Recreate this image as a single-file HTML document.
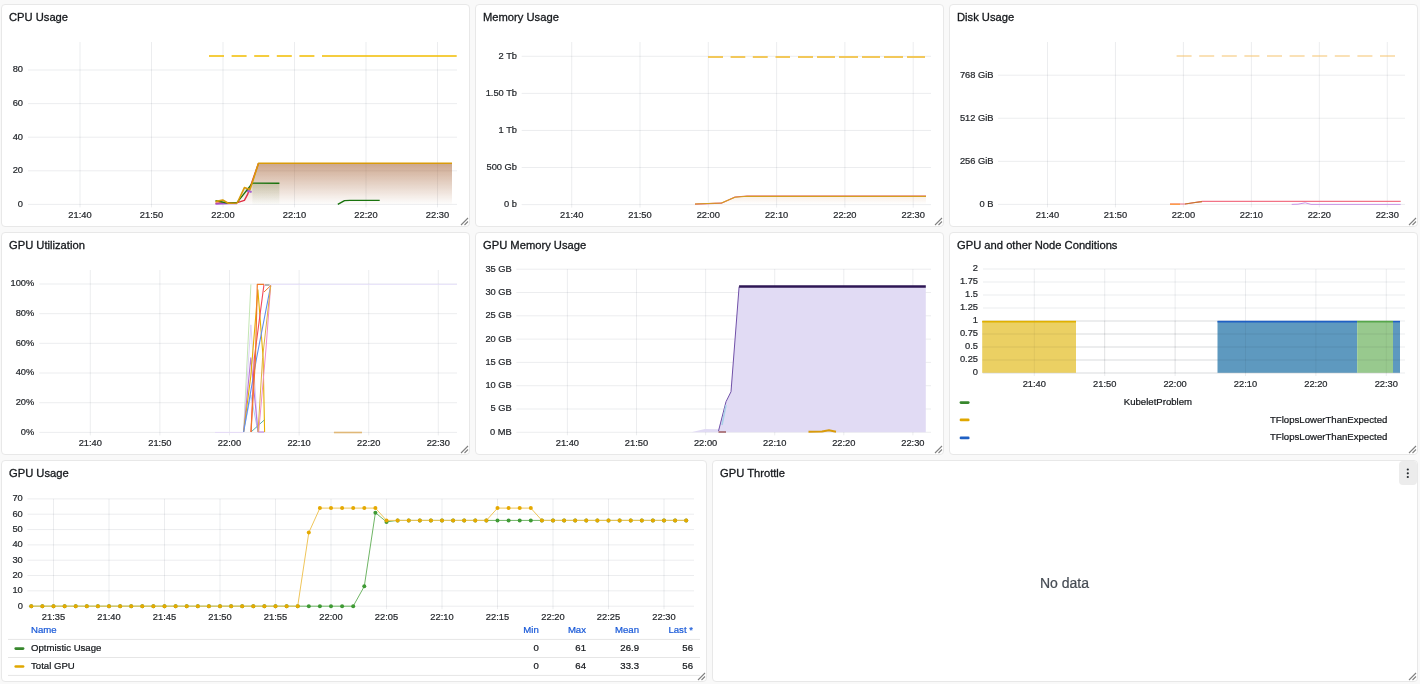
<!DOCTYPE html><html><head><meta charset="utf-8"><style>
html,body{margin:0;padding:0;}
body{width:1420px;height:684px;background:#f9f9f9;position:relative;overflow:hidden;font-family:"Liberation Sans", sans-serif;}
.p{position:absolute;box-sizing:border-box;background:#fff;border:1px solid #e8e8e8;border-radius:4px;}
.t{position:absolute;font-size:11.2px;color:#15181c;white-space:nowrap;line-height:1;-webkit-text-stroke:0.3px #15181c;}
svg{position:absolute;left:0;top:0;will-change:transform;}
.t{will-change:transform;}
</style></head><body>
<div class="p" style="left:1px;top:4px;width:469px;height:223px"></div>
<div class="p" style="left:475px;top:4px;width:469px;height:223px"></div>
<div class="p" style="left:949px;top:4px;width:469px;height:223px"></div>
<div class="p" style="left:1px;top:232px;width:469px;height:223px"></div>
<div class="p" style="left:475px;top:232px;width:469px;height:223px"></div>
<div class="p" style="left:949px;top:232px;width:469px;height:223px"></div>
<div class="p" style="left:1px;top:460px;width:706px;height:222px"></div>
<div class="p" style="left:712px;top:460px;width:706px;height:222px"></div>
<div class="t" style="left:9px;top:12px">CPU Usage</div>
<div class="t" style="left:483px;top:12px">Memory Usage</div>
<div class="t" style="left:957px;top:12px">Disk Usage</div>
<div class="t" style="left:9px;top:240px">GPU Utilization</div>
<div class="t" style="left:483px;top:240px">GPU Memory Usage</div>
<div class="t" style="left:957px;top:240px">GPU and other Node Conditions</div>
<div class="t" style="left:9px;top:468px">GPU Usage</div>
<div class="t" style="left:720px;top:468px">GPU Throttle</div>
<svg width="1420" height="684" viewBox="0 0 1420 684" font-family='"Liberation Sans", sans-serif'><line x1="28" y1="204.4" x2="457" y2="204.4" stroke="rgba(35,45,65,0.085)" stroke-width="1" />
<text x="23" y="206.8" font-size="9.3" text-anchor="end" fill="#25282d" stroke="#25282d" stroke-width="0.22" >0</text>
<line x1="28" y1="170.8" x2="457" y2="170.8" stroke="rgba(35,45,65,0.085)" stroke-width="1" />
<text x="23" y="173.20000000000002" font-size="9.3" text-anchor="end" fill="#25282d" stroke="#25282d" stroke-width="0.22" >20</text>
<line x1="28" y1="137.2" x2="457" y2="137.2" stroke="rgba(35,45,65,0.085)" stroke-width="1" />
<text x="23" y="139.6" font-size="9.3" text-anchor="end" fill="#25282d" stroke="#25282d" stroke-width="0.22" >40</text>
<line x1="28" y1="103.6" x2="457" y2="103.6" stroke="rgba(35,45,65,0.085)" stroke-width="1" />
<text x="23" y="106.0" font-size="9.3" text-anchor="end" fill="#25282d" stroke="#25282d" stroke-width="0.22" >60</text>
<line x1="28" y1="70.0" x2="457" y2="70.0" stroke="rgba(35,45,65,0.085)" stroke-width="1" />
<text x="23" y="72.4" font-size="9.3" text-anchor="end" fill="#25282d" stroke="#25282d" stroke-width="0.22" >80</text>
<line x1="80.0" y1="42" x2="80.0" y2="207.4" stroke="rgba(35,45,65,0.085)" stroke-width="1" />
<text x="80.0" y="218" font-size="9.3" text-anchor="middle" fill="#25282d" stroke="#25282d" stroke-width="0.22" >21:40</text>
<line x1="151.5" y1="42" x2="151.5" y2="207.4" stroke="rgba(35,45,65,0.085)" stroke-width="1" />
<text x="151.5" y="218" font-size="9.3" text-anchor="middle" fill="#25282d" stroke="#25282d" stroke-width="0.22" >21:50</text>
<line x1="223.0" y1="42" x2="223.0" y2="207.4" stroke="rgba(35,45,65,0.085)" stroke-width="1" />
<text x="223.0" y="218" font-size="9.3" text-anchor="middle" fill="#25282d" stroke="#25282d" stroke-width="0.22" >22:00</text>
<line x1="294.5" y1="42" x2="294.5" y2="207.4" stroke="rgba(35,45,65,0.085)" stroke-width="1" />
<text x="294.5" y="218" font-size="9.3" text-anchor="middle" fill="#25282d" stroke="#25282d" stroke-width="0.22" >22:10</text>
<line x1="366.0" y1="42" x2="366.0" y2="207.4" stroke="rgba(35,45,65,0.085)" stroke-width="1" />
<text x="366.0" y="218" font-size="9.3" text-anchor="middle" fill="#25282d" stroke="#25282d" stroke-width="0.22" >22:20</text>
<line x1="437.5" y1="42" x2="437.5" y2="207.4" stroke="rgba(35,45,65,0.085)" stroke-width="1" />
<text x="437.5" y="218" font-size="9.3" text-anchor="middle" fill="#25282d" stroke="#25282d" stroke-width="0.22" >22:30</text>
<line x1="521.7" y1="204.6" x2="931" y2="204.6" stroke="rgba(35,45,65,0.085)" stroke-width="1" />
<text x="517" y="207.0" font-size="9.3" text-anchor="end" fill="#25282d" stroke="#25282d" stroke-width="0.22" >0 b</text>
<line x1="521.7" y1="167.53" x2="931" y2="167.53" stroke="rgba(35,45,65,0.085)" stroke-width="1" />
<text x="517" y="169.93" font-size="9.3" text-anchor="end" fill="#25282d" stroke="#25282d" stroke-width="0.22" >500 Gb</text>
<line x1="521.7" y1="130.45999999999998" x2="931" y2="130.45999999999998" stroke="rgba(35,45,65,0.085)" stroke-width="1" />
<text x="517" y="132.85999999999999" font-size="9.3" text-anchor="end" fill="#25282d" stroke="#25282d" stroke-width="0.22" >1 Tb</text>
<line x1="521.7" y1="93.38999999999999" x2="931" y2="93.38999999999999" stroke="rgba(35,45,65,0.085)" stroke-width="1" />
<text x="517" y="95.78999999999999" font-size="9.3" text-anchor="end" fill="#25282d" stroke="#25282d" stroke-width="0.22" >1.50 Tb</text>
<line x1="521.7" y1="56.31999999999999" x2="931" y2="56.31999999999999" stroke="rgba(35,45,65,0.085)" stroke-width="1" />
<text x="517" y="58.71999999999999" font-size="9.3" text-anchor="end" fill="#25282d" stroke="#25282d" stroke-width="0.22" >2 Tb</text>
<line x1="571.7" y1="42" x2="571.7" y2="207.6" stroke="rgba(35,45,65,0.085)" stroke-width="1" />
<text x="571.7" y="218" font-size="9.3" text-anchor="middle" fill="#25282d" stroke="#25282d" stroke-width="0.22" >21:40</text>
<line x1="640.0" y1="42" x2="640.0" y2="207.6" stroke="rgba(35,45,65,0.085)" stroke-width="1" />
<text x="640.0" y="218" font-size="9.3" text-anchor="middle" fill="#25282d" stroke="#25282d" stroke-width="0.22" >21:50</text>
<line x1="708.3000000000001" y1="42" x2="708.3000000000001" y2="207.6" stroke="rgba(35,45,65,0.085)" stroke-width="1" />
<text x="708.3000000000001" y="218" font-size="9.3" text-anchor="middle" fill="#25282d" stroke="#25282d" stroke-width="0.22" >22:00</text>
<line x1="776.6" y1="42" x2="776.6" y2="207.6" stroke="rgba(35,45,65,0.085)" stroke-width="1" />
<text x="776.6" y="218" font-size="9.3" text-anchor="middle" fill="#25282d" stroke="#25282d" stroke-width="0.22" >22:10</text>
<line x1="844.9000000000001" y1="42" x2="844.9000000000001" y2="207.6" stroke="rgba(35,45,65,0.085)" stroke-width="1" />
<text x="844.9000000000001" y="218" font-size="9.3" text-anchor="middle" fill="#25282d" stroke="#25282d" stroke-width="0.22" >22:20</text>
<line x1="913.2" y1="42" x2="913.2" y2="207.6" stroke="rgba(35,45,65,0.085)" stroke-width="1" />
<text x="913.2" y="218" font-size="9.3" text-anchor="middle" fill="#25282d" stroke="#25282d" stroke-width="0.22" >22:30</text>
<line x1="998" y1="204.4" x2="1405" y2="204.4" stroke="rgba(35,45,65,0.085)" stroke-width="1" />
<text x="993.5" y="206.8" font-size="9.3" text-anchor="end" fill="#25282d" stroke="#25282d" stroke-width="0.22" >0 B</text>
<line x1="998" y1="161.33" x2="1405" y2="161.33" stroke="rgba(35,45,65,0.085)" stroke-width="1" />
<text x="993.5" y="163.73000000000002" font-size="9.3" text-anchor="end" fill="#25282d" stroke="#25282d" stroke-width="0.22" >256 GiB</text>
<line x1="998" y1="118.26" x2="1405" y2="118.26" stroke="rgba(35,45,65,0.085)" stroke-width="1" />
<text x="993.5" y="120.66000000000001" font-size="9.3" text-anchor="end" fill="#25282d" stroke="#25282d" stroke-width="0.22" >512 GiB</text>
<line x1="998" y1="75.19" x2="1405" y2="75.19" stroke="rgba(35,45,65,0.085)" stroke-width="1" />
<text x="993.5" y="77.59" font-size="9.3" text-anchor="end" fill="#25282d" stroke="#25282d" stroke-width="0.22" >768 GiB</text>
<line x1="1047.5" y1="42" x2="1047.5" y2="207.4" stroke="rgba(35,45,65,0.085)" stroke-width="1" />
<text x="1047.5" y="218" font-size="9.3" text-anchor="middle" fill="#25282d" stroke="#25282d" stroke-width="0.22" >21:40</text>
<line x1="1115.46" y1="42" x2="1115.46" y2="207.4" stroke="rgba(35,45,65,0.085)" stroke-width="1" />
<text x="1115.46" y="218" font-size="9.3" text-anchor="middle" fill="#25282d" stroke="#25282d" stroke-width="0.22" >21:50</text>
<line x1="1183.42" y1="42" x2="1183.42" y2="207.4" stroke="rgba(35,45,65,0.085)" stroke-width="1" />
<text x="1183.42" y="218" font-size="9.3" text-anchor="middle" fill="#25282d" stroke="#25282d" stroke-width="0.22" >22:00</text>
<line x1="1251.38" y1="42" x2="1251.38" y2="207.4" stroke="rgba(35,45,65,0.085)" stroke-width="1" />
<text x="1251.38" y="218" font-size="9.3" text-anchor="middle" fill="#25282d" stroke="#25282d" stroke-width="0.22" >22:10</text>
<line x1="1319.34" y1="42" x2="1319.34" y2="207.4" stroke="rgba(35,45,65,0.085)" stroke-width="1" />
<text x="1319.34" y="218" font-size="9.3" text-anchor="middle" fill="#25282d" stroke="#25282d" stroke-width="0.22" >22:20</text>
<line x1="1387.3" y1="42" x2="1387.3" y2="207.4" stroke="rgba(35,45,65,0.085)" stroke-width="1" />
<text x="1387.3" y="218" font-size="9.3" text-anchor="middle" fill="#25282d" stroke="#25282d" stroke-width="0.22" >22:30</text>
<line x1="39.4" y1="432.4" x2="457" y2="432.4" stroke="rgba(35,45,65,0.085)" stroke-width="1" />
<text x="34.3" y="434.79999999999995" font-size="9.3" text-anchor="end" fill="#25282d" stroke="#25282d" stroke-width="0.22" >0%</text>
<line x1="39.4" y1="402.71999999999997" x2="457" y2="402.71999999999997" stroke="rgba(35,45,65,0.085)" stroke-width="1" />
<text x="34.3" y="405.11999999999995" font-size="9.3" text-anchor="end" fill="#25282d" stroke="#25282d" stroke-width="0.22" >20%</text>
<line x1="39.4" y1="373.03999999999996" x2="457" y2="373.03999999999996" stroke="rgba(35,45,65,0.085)" stroke-width="1" />
<text x="34.3" y="375.43999999999994" font-size="9.3" text-anchor="end" fill="#25282d" stroke="#25282d" stroke-width="0.22" >40%</text>
<line x1="39.4" y1="343.36" x2="457" y2="343.36" stroke="rgba(35,45,65,0.085)" stroke-width="1" />
<text x="34.3" y="345.76" font-size="9.3" text-anchor="end" fill="#25282d" stroke="#25282d" stroke-width="0.22" >60%</text>
<line x1="39.4" y1="313.67999999999995" x2="457" y2="313.67999999999995" stroke="rgba(35,45,65,0.085)" stroke-width="1" />
<text x="34.3" y="316.0799999999999" font-size="9.3" text-anchor="end" fill="#25282d" stroke="#25282d" stroke-width="0.22" >80%</text>
<line x1="39.4" y1="284.0" x2="457" y2="284.0" stroke="rgba(35,45,65,0.085)" stroke-width="1" />
<text x="34.3" y="286.4" font-size="9.3" text-anchor="end" fill="#25282d" stroke="#25282d" stroke-width="0.22" >100%</text>
<line x1="90.3" y1="270" x2="90.3" y2="435.4" stroke="rgba(35,45,65,0.085)" stroke-width="1" />
<text x="90.3" y="446" font-size="9.3" text-anchor="middle" fill="#25282d" stroke="#25282d" stroke-width="0.22" >21:40</text>
<line x1="159.89999999999998" y1="270" x2="159.89999999999998" y2="435.4" stroke="rgba(35,45,65,0.085)" stroke-width="1" />
<text x="159.89999999999998" y="446" font-size="9.3" text-anchor="middle" fill="#25282d" stroke="#25282d" stroke-width="0.22" >21:50</text>
<line x1="229.5" y1="270" x2="229.5" y2="435.4" stroke="rgba(35,45,65,0.085)" stroke-width="1" />
<text x="229.5" y="446" font-size="9.3" text-anchor="middle" fill="#25282d" stroke="#25282d" stroke-width="0.22" >22:00</text>
<line x1="299.09999999999997" y1="270" x2="299.09999999999997" y2="435.4" stroke="rgba(35,45,65,0.085)" stroke-width="1" />
<text x="299.09999999999997" y="446" font-size="9.3" text-anchor="middle" fill="#25282d" stroke="#25282d" stroke-width="0.22" >22:10</text>
<line x1="368.7" y1="270" x2="368.7" y2="435.4" stroke="rgba(35,45,65,0.085)" stroke-width="1" />
<text x="368.7" y="446" font-size="9.3" text-anchor="middle" fill="#25282d" stroke="#25282d" stroke-width="0.22" >22:20</text>
<line x1="438.3" y1="270" x2="438.3" y2="435.4" stroke="rgba(35,45,65,0.085)" stroke-width="1" />
<text x="438.3" y="446" font-size="9.3" text-anchor="middle" fill="#25282d" stroke="#25282d" stroke-width="0.22" >22:30</text>
<line x1="516.4" y1="432.3" x2="931" y2="432.3" stroke="rgba(35,45,65,0.085)" stroke-width="1" />
<text x="511.8" y="434.7" font-size="9.3" text-anchor="end" fill="#25282d" stroke="#25282d" stroke-width="0.22" >0 MB</text>
<line x1="516.4" y1="409.0" x2="931" y2="409.0" stroke="rgba(35,45,65,0.085)" stroke-width="1" />
<text x="511.8" y="411.4" font-size="9.3" text-anchor="end" fill="#25282d" stroke="#25282d" stroke-width="0.22" >5 GB</text>
<line x1="516.4" y1="385.7" x2="931" y2="385.7" stroke="rgba(35,45,65,0.085)" stroke-width="1" />
<text x="511.8" y="388.09999999999997" font-size="9.3" text-anchor="end" fill="#25282d" stroke="#25282d" stroke-width="0.22" >10 GB</text>
<line x1="516.4" y1="362.4" x2="931" y2="362.4" stroke="rgba(35,45,65,0.085)" stroke-width="1" />
<text x="511.8" y="364.79999999999995" font-size="9.3" text-anchor="end" fill="#25282d" stroke="#25282d" stroke-width="0.22" >15 GB</text>
<line x1="516.4" y1="339.1" x2="931" y2="339.1" stroke="rgba(35,45,65,0.085)" stroke-width="1" />
<text x="511.8" y="341.5" font-size="9.3" text-anchor="end" fill="#25282d" stroke="#25282d" stroke-width="0.22" >20 GB</text>
<line x1="516.4" y1="315.8" x2="931" y2="315.8" stroke="rgba(35,45,65,0.085)" stroke-width="1" />
<text x="511.8" y="318.2" font-size="9.3" text-anchor="end" fill="#25282d" stroke="#25282d" stroke-width="0.22" >25 GB</text>
<line x1="516.4" y1="292.5" x2="931" y2="292.5" stroke="rgba(35,45,65,0.085)" stroke-width="1" />
<text x="511.8" y="294.9" font-size="9.3" text-anchor="end" fill="#25282d" stroke="#25282d" stroke-width="0.22" >30 GB</text>
<line x1="516.4" y1="269.20000000000005" x2="931" y2="269.20000000000005" stroke="rgba(35,45,65,0.085)" stroke-width="1" />
<text x="511.8" y="271.6" font-size="9.3" text-anchor="end" fill="#25282d" stroke="#25282d" stroke-width="0.22" >35 GB</text>
<line x1="567.4" y1="269.2" x2="567.4" y2="435.3" stroke="rgba(35,45,65,0.085)" stroke-width="1" />
<text x="567.4" y="446" font-size="9.3" text-anchor="middle" fill="#25282d" stroke="#25282d" stroke-width="0.22" >21:40</text>
<line x1="636.5" y1="269.2" x2="636.5" y2="435.3" stroke="rgba(35,45,65,0.085)" stroke-width="1" />
<text x="636.5" y="446" font-size="9.3" text-anchor="middle" fill="#25282d" stroke="#25282d" stroke-width="0.22" >21:50</text>
<line x1="705.5999999999999" y1="269.2" x2="705.5999999999999" y2="435.3" stroke="rgba(35,45,65,0.085)" stroke-width="1" />
<text x="705.5999999999999" y="446" font-size="9.3" text-anchor="middle" fill="#25282d" stroke="#25282d" stroke-width="0.22" >22:00</text>
<line x1="774.6999999999999" y1="269.2" x2="774.6999999999999" y2="435.3" stroke="rgba(35,45,65,0.085)" stroke-width="1" />
<text x="774.6999999999999" y="446" font-size="9.3" text-anchor="middle" fill="#25282d" stroke="#25282d" stroke-width="0.22" >22:10</text>
<line x1="843.8" y1="269.2" x2="843.8" y2="435.3" stroke="rgba(35,45,65,0.085)" stroke-width="1" />
<text x="843.8" y="446" font-size="9.3" text-anchor="middle" fill="#25282d" stroke="#25282d" stroke-width="0.22" >22:20</text>
<line x1="912.9" y1="269.2" x2="912.9" y2="435.3" stroke="rgba(35,45,65,0.085)" stroke-width="1" />
<text x="912.9" y="446" font-size="9.3" text-anchor="middle" fill="#25282d" stroke="#25282d" stroke-width="0.22" >22:30</text>
<line x1="983" y1="373" x2="1405" y2="373" stroke="rgba(35,45,65,0.085)" stroke-width="1" />
<text x="978" y="375.4" font-size="9.3" text-anchor="end" fill="#25282d" stroke="#25282d" stroke-width="0.22" >0</text>
<line x1="983" y1="360" x2="1405" y2="360" stroke="rgba(35,45,65,0.085)" stroke-width="1" />
<text x="978" y="362.4" font-size="9.3" text-anchor="end" fill="#25282d" stroke="#25282d" stroke-width="0.22" >0.25</text>
<line x1="983" y1="347" x2="1405" y2="347" stroke="rgba(35,45,65,0.085)" stroke-width="1" />
<text x="978" y="349.4" font-size="9.3" text-anchor="end" fill="#25282d" stroke="#25282d" stroke-width="0.22" >0.5</text>
<line x1="983" y1="334" x2="1405" y2="334" stroke="rgba(35,45,65,0.085)" stroke-width="1" />
<text x="978" y="336.4" font-size="9.3" text-anchor="end" fill="#25282d" stroke="#25282d" stroke-width="0.22" >0.75</text>
<line x1="983" y1="321" x2="1405" y2="321" stroke="rgba(35,45,65,0.085)" stroke-width="1" />
<text x="978" y="323.4" font-size="9.3" text-anchor="end" fill="#25282d" stroke="#25282d" stroke-width="0.22" >1</text>
<line x1="983" y1="308" x2="1405" y2="308" stroke="rgba(35,45,65,0.085)" stroke-width="1" />
<text x="978" y="310.4" font-size="9.3" text-anchor="end" fill="#25282d" stroke="#25282d" stroke-width="0.22" >1.25</text>
<line x1="983" y1="295" x2="1405" y2="295" stroke="rgba(35,45,65,0.085)" stroke-width="1" />
<text x="978" y="297.4" font-size="9.3" text-anchor="end" fill="#25282d" stroke="#25282d" stroke-width="0.22" >1.5</text>
<line x1="983" y1="282" x2="1405" y2="282" stroke="rgba(35,45,65,0.085)" stroke-width="1" />
<text x="978" y="284.4" font-size="9.3" text-anchor="end" fill="#25282d" stroke="#25282d" stroke-width="0.22" >1.75</text>
<line x1="983" y1="269" x2="1405" y2="269" stroke="rgba(35,45,65,0.085)" stroke-width="1" />
<text x="978" y="271.4" font-size="9.3" text-anchor="end" fill="#25282d" stroke="#25282d" stroke-width="0.22" >2</text>
<line x1="1034.3" y1="269.2" x2="1034.3" y2="376" stroke="rgba(35,45,65,0.085)" stroke-width="1" />
<text x="1034.3" y="387" font-size="9.3" text-anchor="middle" fill="#25282d" stroke="#25282d" stroke-width="0.22" >21:40</text>
<line x1="1104.7" y1="269.2" x2="1104.7" y2="376" stroke="rgba(35,45,65,0.085)" stroke-width="1" />
<text x="1104.7" y="387" font-size="9.3" text-anchor="middle" fill="#25282d" stroke="#25282d" stroke-width="0.22" >21:50</text>
<line x1="1175.1" y1="269.2" x2="1175.1" y2="376" stroke="rgba(35,45,65,0.085)" stroke-width="1" />
<text x="1175.1" y="387" font-size="9.3" text-anchor="middle" fill="#25282d" stroke="#25282d" stroke-width="0.22" >22:00</text>
<line x1="1245.5" y1="269.2" x2="1245.5" y2="376" stroke="rgba(35,45,65,0.085)" stroke-width="1" />
<text x="1245.5" y="387" font-size="9.3" text-anchor="middle" fill="#25282d" stroke="#25282d" stroke-width="0.22" >22:10</text>
<line x1="1315.9" y1="269.2" x2="1315.9" y2="376" stroke="rgba(35,45,65,0.085)" stroke-width="1" />
<text x="1315.9" y="387" font-size="9.3" text-anchor="middle" fill="#25282d" stroke="#25282d" stroke-width="0.22" >22:20</text>
<line x1="1386.3" y1="269.2" x2="1386.3" y2="376" stroke="rgba(35,45,65,0.085)" stroke-width="1" />
<text x="1386.3" y="387" font-size="9.3" text-anchor="middle" fill="#25282d" stroke="#25282d" stroke-width="0.22" >22:30</text>
<line x1="27.5" y1="606.2" x2="694" y2="606.2" stroke="rgba(35,45,65,0.085)" stroke-width="1" />
<text x="22.8" y="608.6" font-size="9.3" text-anchor="end" fill="#25282d" stroke="#25282d" stroke-width="0.22" >0</text>
<line x1="27.5" y1="590.87" x2="694" y2="590.87" stroke="rgba(35,45,65,0.085)" stroke-width="1" />
<text x="22.8" y="593.27" font-size="9.3" text-anchor="end" fill="#25282d" stroke="#25282d" stroke-width="0.22" >10</text>
<line x1="27.5" y1="575.5400000000001" x2="694" y2="575.5400000000001" stroke="rgba(35,45,65,0.085)" stroke-width="1" />
<text x="22.8" y="577.94" font-size="9.3" text-anchor="end" fill="#25282d" stroke="#25282d" stroke-width="0.22" >20</text>
<line x1="27.5" y1="560.21" x2="694" y2="560.21" stroke="rgba(35,45,65,0.085)" stroke-width="1" />
<text x="22.8" y="562.61" font-size="9.3" text-anchor="end" fill="#25282d" stroke="#25282d" stroke-width="0.22" >30</text>
<line x1="27.5" y1="544.88" x2="694" y2="544.88" stroke="rgba(35,45,65,0.085)" stroke-width="1" />
<text x="22.8" y="547.28" font-size="9.3" text-anchor="end" fill="#25282d" stroke="#25282d" stroke-width="0.22" >40</text>
<line x1="27.5" y1="529.5500000000001" x2="694" y2="529.5500000000001" stroke="rgba(35,45,65,0.085)" stroke-width="1" />
<text x="22.8" y="531.95" font-size="9.3" text-anchor="end" fill="#25282d" stroke="#25282d" stroke-width="0.22" >50</text>
<line x1="27.5" y1="514.22" x2="694" y2="514.22" stroke="rgba(35,45,65,0.085)" stroke-width="1" />
<text x="22.8" y="516.62" font-size="9.3" text-anchor="end" fill="#25282d" stroke="#25282d" stroke-width="0.22" >60</text>
<line x1="27.5" y1="498.89000000000004" x2="694" y2="498.89000000000004" stroke="rgba(35,45,65,0.085)" stroke-width="1" />
<text x="22.8" y="501.29" font-size="9.3" text-anchor="end" fill="#25282d" stroke="#25282d" stroke-width="0.22" >70</text>
<line x1="53.5" y1="498.9" x2="53.5" y2="609.2" stroke="rgba(35,45,65,0.085)" stroke-width="1" />
<text x="53.5" y="620" font-size="9.3" text-anchor="middle" fill="#25282d" stroke="#25282d" stroke-width="0.22" >21:35</text>
<line x1="109.0" y1="498.9" x2="109.0" y2="609.2" stroke="rgba(35,45,65,0.085)" stroke-width="1" />
<text x="109.0" y="620" font-size="9.3" text-anchor="middle" fill="#25282d" stroke="#25282d" stroke-width="0.22" >21:40</text>
<line x1="164.5" y1="498.9" x2="164.5" y2="609.2" stroke="rgba(35,45,65,0.085)" stroke-width="1" />
<text x="164.5" y="620" font-size="9.3" text-anchor="middle" fill="#25282d" stroke="#25282d" stroke-width="0.22" >21:45</text>
<line x1="220.0" y1="498.9" x2="220.0" y2="609.2" stroke="rgba(35,45,65,0.085)" stroke-width="1" />
<text x="220.0" y="620" font-size="9.3" text-anchor="middle" fill="#25282d" stroke="#25282d" stroke-width="0.22" >21:50</text>
<line x1="275.5" y1="498.9" x2="275.5" y2="609.2" stroke="rgba(35,45,65,0.085)" stroke-width="1" />
<text x="275.5" y="620" font-size="9.3" text-anchor="middle" fill="#25282d" stroke="#25282d" stroke-width="0.22" >21:55</text>
<line x1="331.0" y1="498.9" x2="331.0" y2="609.2" stroke="rgba(35,45,65,0.085)" stroke-width="1" />
<text x="331.0" y="620" font-size="9.3" text-anchor="middle" fill="#25282d" stroke="#25282d" stroke-width="0.22" >22:00</text>
<line x1="386.5" y1="498.9" x2="386.5" y2="609.2" stroke="rgba(35,45,65,0.085)" stroke-width="1" />
<text x="386.5" y="620" font-size="9.3" text-anchor="middle" fill="#25282d" stroke="#25282d" stroke-width="0.22" >22:05</text>
<line x1="442.0" y1="498.9" x2="442.0" y2="609.2" stroke="rgba(35,45,65,0.085)" stroke-width="1" />
<text x="442.0" y="620" font-size="9.3" text-anchor="middle" fill="#25282d" stroke="#25282d" stroke-width="0.22" >22:10</text>
<line x1="497.5" y1="498.9" x2="497.5" y2="609.2" stroke="rgba(35,45,65,0.085)" stroke-width="1" />
<text x="497.5" y="620" font-size="9.3" text-anchor="middle" fill="#25282d" stroke="#25282d" stroke-width="0.22" >22:15</text>
<line x1="553.0" y1="498.9" x2="553.0" y2="609.2" stroke="rgba(35,45,65,0.085)" stroke-width="1" />
<text x="553.0" y="620" font-size="9.3" text-anchor="middle" fill="#25282d" stroke="#25282d" stroke-width="0.22" >22:20</text>
<line x1="608.5" y1="498.9" x2="608.5" y2="609.2" stroke="rgba(35,45,65,0.085)" stroke-width="1" />
<text x="608.5" y="620" font-size="9.3" text-anchor="middle" fill="#25282d" stroke="#25282d" stroke-width="0.22" >22:25</text>
<line x1="664.0" y1="498.9" x2="664.0" y2="609.2" stroke="rgba(35,45,65,0.085)" stroke-width="1" />
<text x="664.0" y="620" font-size="9.3" text-anchor="middle" fill="#25282d" stroke="#25282d" stroke-width="0.22" >22:30</text>
<defs><linearGradient id="gBrown" x1="0" y1="0" x2="0" y2="1"><stop offset="0" stop-color="#ad7048" stop-opacity="0.62"/><stop offset="1" stop-color="#ad7048" stop-opacity="0.01"/></linearGradient><linearGradient id="gGreen" x1="0" y1="0" x2="0" y2="1"><stop offset="0" stop-color="#6f8a4a" stop-opacity="0.24"/><stop offset="1" stop-color="#6f8a4a" stop-opacity="0.02"/></linearGradient><linearGradient id="gMem" x1="0" y1="0" x2="0" y2="1"><stop offset="0" stop-color="#c87830" stop-opacity="0.12"/><stop offset="1" stop-color="#c87830" stop-opacity="0.0"/></linearGradient></defs>
<polyline points="209.0,56.0 322.0,56.0" fill="none" stroke="#f2bd00" stroke-width="1.6" stroke-linejoin="round" stroke-dasharray="15 7.6"/>
<polyline points="322.0,56.0 456.7,56.0" fill="none" stroke="#f2bd00" stroke-width="1.6" stroke-linejoin="round" />
<polygon points="237.2,204.4 244.4,187.6 250.0,189.6 258.5,163.3 452.0,163.3 452.0,204.4" fill="url(#gBrown)" />
<polygon points="252.4,183.1 279.4,183.3 279.4,204.4 252.4,204.4" fill="url(#gGreen)" />
<polyline points="215.5,203.2 238.0,202.4 244.4,200.4 247.6,194.4 258.5,163.3" fill="none" stroke="#e02f44" stroke-width="1.4" stroke-linejoin="round" />
<polyline points="215.5,204.0 230.0,203.5 237.0,203.5" fill="none" stroke="#a352cc" stroke-width="1.4" stroke-linejoin="round" />
<polyline points="246.5,190.5 251.6,192.0" fill="none" stroke="#a060d0" stroke-width="2" stroke-linejoin="round" />
<polyline points="215.5,200.8 229.0,203.2 237.2,202.4 252.4,183.1 279.4,183.3" fill="none" stroke="#19730e" stroke-width="1.4" stroke-linejoin="round" />
<polyline points="215.5,201.6 222.7,200.0 228.3,203.2 237.2,203.0 244.4,187.6 250.0,189.6 258.5,163.3 452.0,163.3" fill="none" stroke="#d99b0a" stroke-width="1.6" stroke-linejoin="round" />
<polyline points="337.8,204.4 344.5,200.6 350.0,200.4 379.7,200.4" fill="none" stroke="#19730e" stroke-width="1.4" stroke-linejoin="round" />
<polyline points="708.0,57.0 723.0,57.0" fill="none" stroke="#f2c85a" stroke-width="2" stroke-linejoin="round" />
<polyline points="730.6,57.0 745.3,57.0" fill="none" stroke="#f2c85a" stroke-width="2" stroke-linejoin="round" />
<polyline points="752.8,57.0 767.7,57.0" fill="none" stroke="#f2c85a" stroke-width="2" stroke-linejoin="round" />
<polyline points="775.5,57.0 790.0,57.0" fill="none" stroke="#f2c85a" stroke-width="2" stroke-linejoin="round" />
<polyline points="798.0,57.0 813.0,57.0" fill="none" stroke="#f2c85a" stroke-width="2" stroke-linejoin="round" />
<polyline points="817.0,57.0 835.0,57.0" fill="none" stroke="#f2c85a" stroke-width="2" stroke-linejoin="round" />
<polyline points="839.0,57.0 858.0,57.0" fill="none" stroke="#f2c85a" stroke-width="2" stroke-linejoin="round" />
<polyline points="862.0,57.0 880.0,57.0" fill="none" stroke="#f2c85a" stroke-width="2" stroke-linejoin="round" />
<polyline points="884.0,57.0 903.0,57.0" fill="none" stroke="#f2c85a" stroke-width="2" stroke-linejoin="round" />
<polyline points="907.0,57.0 925.0,57.0" fill="none" stroke="#f2c85a" stroke-width="2" stroke-linejoin="round" />
<polygon points="695.0,204.6 721.4,203.2 735.0,197.0 747.0,196.0 926.0,196.0 926.0,204.6" fill="url(#gMem)" />
<polyline points="695.0,204.2 721.4,203.2 735.0,197.0 747.0,196.0 926.0,196.0" fill="none" stroke="#e8577a" stroke-width="1.2" stroke-linejoin="round" />
<polyline points="695.0,204.0 721.4,203.0 735.0,197.3 747.0,196.3 926.0,196.3" fill="none" stroke="#d4a020" stroke-width="1.15" stroke-linejoin="round" />
<polyline points="1176.6,56.0 1397.0,56.0" fill="none" stroke="#f5c46e" stroke-width="1.1" stroke-linejoin="round" stroke-dasharray="15 7.6"/>
<polyline points="1170.0,204.0 1185.0,204.0 1202.4,201.4 1400.7,201.4" fill="none" stroke="#f27386" stroke-width="1.2" stroke-linejoin="round" />
<polyline points="1170.0,204.2 1180.0,204.2" fill="none" stroke="#ff9830" stroke-width="1.2" stroke-linejoin="round" />
<polyline points="1185.0,204.0 1195.0,202.5 1202.0,201.6" fill="none" stroke="#c4782a" stroke-width="1.2" stroke-linejoin="round" />
<polyline points="1291.7,204.4 1298.0,204.2 1305.2,202.8 1311.0,204.4 1400.7,204.4" fill="none" stroke="#c995e6" stroke-width="1" stroke-linejoin="round" />
<polyline points="215.0,432.4 243.6,432.4" fill="none" stroke="#e6dcf8" stroke-width="1" stroke-linejoin="round" />
<polyline points="270.5,284.3 457.0,284.3" fill="none" stroke="#e6e0fa" stroke-width="1" stroke-linejoin="round" />
<polyline points="243.6,432.0 250.9,284.4" fill="none" stroke="#c4e6b4" stroke-width="1" stroke-linejoin="round" />
<polyline points="243.6,432.0 250.9,324.8 258.0,432.0" fill="none" stroke="#ddd2f6" stroke-width="1" stroke-linejoin="round" />
<polyline points="243.6,432.0 250.8,394.7 258.0,432.0" fill="none" stroke="#a8ccf8" stroke-width="1" stroke-linejoin="round" />
<polyline points="251.0,432.0 264.6,419.7" fill="none" stroke="#3da6a6" stroke-width="0.9" stroke-linejoin="round" />
<polyline points="243.6,432.0 250.8,357.9 258.0,432.0 264.3,432.0" fill="none" stroke="#b877d9" stroke-width="1.1" stroke-linejoin="round" />
<polyline points="243.6,432.0 250.8,376.3 257.9,289.7 263.1,357.5 264.6,432.0" fill="none" stroke="#e5b000" stroke-width="1.1" stroke-linejoin="round" />
<polyline points="243.6,432.0 256.7,357.5 270.7,285.6" fill="none" stroke="#5f8ef0" stroke-width="1.1" stroke-linejoin="round" />
<polyline points="258.7,432.0 265.9,350.0 270.7,285.6" fill="none" stroke="#f08cc8" stroke-width="1" stroke-linejoin="round" />
<polyline points="258.0,432.0 262.6,357.5 270.7,285.6" fill="none" stroke="#e0b040" stroke-width="1" stroke-linejoin="round" />
<polyline points="251.0,432.0 254.4,357.5 264.0,284.4" fill="none" stroke="#f2495c" stroke-width="1.1" stroke-linejoin="round" />
<polyline points="251.0,432.0 255.5,357.5 257.3,284.4 264.0,284.4" fill="none" stroke="#f07a2a" stroke-width="1.2" stroke-linejoin="round" />
<polyline points="264.0,292.0 270.7,285.6" fill="none" stroke="#f07a2a" stroke-width="1" stroke-linejoin="round" />
<polyline points="265.0,285.0 269.6,285.0" fill="none" stroke="#707070" stroke-width="1" stroke-linejoin="round" />
<polyline points="333.9,432.5 362.0,432.5" fill="none" stroke="#e0b878" stroke-width="1.6" stroke-linejoin="round" />
<polygon points="691.2,432.3 704.8,429.0 718.5,429.2 726.0,401.7 731.0,391.7 739.1,286.6 925.8,286.6 925.8,432.3" fill="#e1dbf4" />
<polyline points="718.5,432.0 726.0,432.0" fill="none" stroke="#8a3a3a" stroke-width="1.2" stroke-linejoin="round" />
<polyline points="718.5,431.0 726.0,401.7 731.0,391.7 739.1,286.6" fill="none" stroke="#7050a8" stroke-width="1" stroke-linejoin="round" />
<polyline points="722.0,425.0 726.0,405.0" fill="none" stroke="#a8d0e8" stroke-width="1.5" stroke-linejoin="round" />
<polyline points="739.1,286.5 925.8,286.5" fill="none" stroke="#2e1755" stroke-width="2.6" stroke-linejoin="round" />
<polyline points="808.5,431.7 822.0,431.5 829.0,430.3 836.0,431.7" fill="none" stroke="#d99b0a" stroke-width="2" stroke-linejoin="round" />
<rect x="982.2" y="321" width="93.8" height="51.8" fill="#ebd063"/>
<rect x="1217.5" y="321" width="139.7" height="51.8" fill="#5e99bf"/>
<rect x="1357.2" y="321" width="35.8" height="51.8" fill="#98c98e"/>
<rect x="1393" y="321" width="7" height="51.8" fill="#5e99bf"/>
<line x1="982.2" y1="373" x2="1400" y2="373" stroke="rgba(0,0,0,0.07)" stroke-width="1" />
<line x1="982.2" y1="360" x2="1400" y2="360" stroke="rgba(0,0,0,0.07)" stroke-width="1" />
<line x1="982.2" y1="347" x2="1400" y2="347" stroke="rgba(0,0,0,0.07)" stroke-width="1" />
<line x1="982.2" y1="334" x2="1400" y2="334" stroke="rgba(0,0,0,0.07)" stroke-width="1" />
<line x1="982.2" y1="321" x2="1400" y2="321" stroke="rgba(0,0,0,0.07)" stroke-width="1" />
<line x1="1034.3" y1="321" x2="1034.3" y2="373" stroke="rgba(0,0,0,0.05)" stroke-width="1" />
<line x1="1104.7" y1="321" x2="1104.7" y2="373" stroke="rgba(0,0,0,0.05)" stroke-width="1" />
<line x1="1175.1" y1="321" x2="1175.1" y2="373" stroke="rgba(0,0,0,0.05)" stroke-width="1" />
<line x1="1245.5" y1="321" x2="1245.5" y2="373" stroke="rgba(0,0,0,0.05)" stroke-width="1" />
<line x1="1315.9" y1="321" x2="1315.9" y2="373" stroke="rgba(0,0,0,0.05)" stroke-width="1" />
<line x1="1386.3" y1="321" x2="1386.3" y2="373" stroke="rgba(0,0,0,0.05)" stroke-width="1" />
<line x1="982.2" y1="321.6" x2="1076" y2="321.6" stroke="#e0b000" stroke-width="1.6" />
<line x1="1217.5" y1="321.6" x2="1357.2" y2="321.6" stroke="#1f60c4" stroke-width="1.6" />
<line x1="1357.2" y1="321.6" x2="1393" y2="321.6" stroke="#56a64b" stroke-width="1.6" />
<line x1="1393" y1="321.6" x2="1400" y2="321.6" stroke="#1f60c4" stroke-width="1.6" />
<rect x="959.6" y="401.3" width="10" height="2.6" rx="1.3" fill="#37872d"/>
<rect x="959.6" y="418.6" width="10" height="2.6" rx="1.3" fill="#e0a700"/>
<rect x="959.6" y="436.6" width="10" height="2.6" rx="1.3" fill="#1f60c4"/>
<text x="1123.8" y="405" font-size="9.6" text-anchor="start" fill="#15181c" stroke="#15181c" stroke-width="0.22" >KubeletProblem</text>
<text x="1270" y="422.6" font-size="9.6" text-anchor="start" fill="#15181c" stroke="#15181c" stroke-width="0.22" >TFlopsLowerThanExpected</text>
<text x="1270" y="440" font-size="9.6" text-anchor="start" fill="#15181c" stroke="#15181c" stroke-width="0.22" >TFlopsLowerThanExpected</text>
<polyline points="31.3,606.2 42.4,606.2 53.5,606.2 64.6,606.2 75.7,606.2 86.8,606.2 97.9,606.2 109.0,606.2 120.1,606.2 131.2,606.2 142.3,606.2 153.4,606.2 164.5,606.2 175.6,606.2 186.7,606.2 197.8,606.2 208.9,606.2 220.0,606.2 231.1,606.2 242.2,606.2 253.3,606.2 264.4,606.2 275.5,606.2 286.6,606.2 297.7,606.2 308.8,606.2 319.9,606.2 331.0,606.2 342.1,606.2 353.2,606.2 364.3,586.3 375.4,512.7 386.5,521.9 397.6,520.4 408.7,520.4 419.8,520.4 430.9,520.4 442.0,520.4 453.1,520.4 464.2,520.4 475.3,520.4 486.4,520.4 497.5,520.4 508.6,520.4 519.7,520.4 530.8,520.4 541.9,520.4 553.0,520.4 564.1,520.4 575.2,520.4 586.3,520.4 597.4,520.4 608.5,520.4 619.6,520.4 630.7,520.4 641.8,520.4 652.9,520.4 664.0,520.4 675.1,520.4 686.2,520.4" fill="none" stroke="#6fb565" stroke-width="1" stroke-linejoin="round" />
<circle cx="31.3" cy="606.2" r="2" fill="#3f9a34"/>
<circle cx="42.4" cy="606.2" r="2" fill="#3f9a34"/>
<circle cx="53.5" cy="606.2" r="2" fill="#3f9a34"/>
<circle cx="64.6" cy="606.2" r="2" fill="#3f9a34"/>
<circle cx="75.7" cy="606.2" r="2" fill="#3f9a34"/>
<circle cx="86.8" cy="606.2" r="2" fill="#3f9a34"/>
<circle cx="97.9" cy="606.2" r="2" fill="#3f9a34"/>
<circle cx="109.0" cy="606.2" r="2" fill="#3f9a34"/>
<circle cx="120.1" cy="606.2" r="2" fill="#3f9a34"/>
<circle cx="131.2" cy="606.2" r="2" fill="#3f9a34"/>
<circle cx="142.3" cy="606.2" r="2" fill="#3f9a34"/>
<circle cx="153.4" cy="606.2" r="2" fill="#3f9a34"/>
<circle cx="164.5" cy="606.2" r="2" fill="#3f9a34"/>
<circle cx="175.6" cy="606.2" r="2" fill="#3f9a34"/>
<circle cx="186.7" cy="606.2" r="2" fill="#3f9a34"/>
<circle cx="197.8" cy="606.2" r="2" fill="#3f9a34"/>
<circle cx="208.9" cy="606.2" r="2" fill="#3f9a34"/>
<circle cx="220.0" cy="606.2" r="2" fill="#3f9a34"/>
<circle cx="231.1" cy="606.2" r="2" fill="#3f9a34"/>
<circle cx="242.2" cy="606.2" r="2" fill="#3f9a34"/>
<circle cx="253.3" cy="606.2" r="2" fill="#3f9a34"/>
<circle cx="264.4" cy="606.2" r="2" fill="#3f9a34"/>
<circle cx="275.5" cy="606.2" r="2" fill="#3f9a34"/>
<circle cx="286.6" cy="606.2" r="2" fill="#3f9a34"/>
<circle cx="297.7" cy="606.2" r="2" fill="#3f9a34"/>
<circle cx="308.8" cy="606.2" r="2" fill="#3f9a34"/>
<circle cx="319.9" cy="606.2" r="2" fill="#3f9a34"/>
<circle cx="331.0" cy="606.2" r="2" fill="#3f9a34"/>
<circle cx="342.1" cy="606.2" r="2" fill="#3f9a34"/>
<circle cx="353.2" cy="606.2" r="2" fill="#3f9a34"/>
<circle cx="364.3" cy="586.3" r="2" fill="#3f9a34"/>
<circle cx="375.4" cy="512.7" r="2" fill="#3f9a34"/>
<circle cx="386.5" cy="521.9" r="2" fill="#3f9a34"/>
<circle cx="397.6" cy="520.4" r="2" fill="#3f9a34"/>
<circle cx="408.7" cy="520.4" r="2" fill="#3f9a34"/>
<circle cx="419.8" cy="520.4" r="2" fill="#3f9a34"/>
<circle cx="430.9" cy="520.4" r="2" fill="#3f9a34"/>
<circle cx="442.0" cy="520.4" r="2" fill="#3f9a34"/>
<circle cx="453.1" cy="520.4" r="2" fill="#3f9a34"/>
<circle cx="464.2" cy="520.4" r="2" fill="#3f9a34"/>
<circle cx="475.3" cy="520.4" r="2" fill="#3f9a34"/>
<circle cx="486.4" cy="520.4" r="2" fill="#3f9a34"/>
<circle cx="497.5" cy="520.4" r="2" fill="#3f9a34"/>
<circle cx="508.6" cy="520.4" r="2" fill="#3f9a34"/>
<circle cx="519.7" cy="520.4" r="2" fill="#3f9a34"/>
<circle cx="530.8" cy="520.4" r="2" fill="#3f9a34"/>
<circle cx="541.9" cy="520.4" r="2" fill="#3f9a34"/>
<circle cx="553.0" cy="520.4" r="2" fill="#3f9a34"/>
<circle cx="564.1" cy="520.4" r="2" fill="#3f9a34"/>
<circle cx="575.2" cy="520.4" r="2" fill="#3f9a34"/>
<circle cx="586.3" cy="520.4" r="2" fill="#3f9a34"/>
<circle cx="597.4" cy="520.4" r="2" fill="#3f9a34"/>
<circle cx="608.5" cy="520.4" r="2" fill="#3f9a34"/>
<circle cx="619.6" cy="520.4" r="2" fill="#3f9a34"/>
<circle cx="630.7" cy="520.4" r="2" fill="#3f9a34"/>
<circle cx="641.8" cy="520.4" r="2" fill="#3f9a34"/>
<circle cx="652.9" cy="520.4" r="2" fill="#3f9a34"/>
<circle cx="664.0" cy="520.4" r="2" fill="#3f9a34"/>
<circle cx="675.1" cy="520.4" r="2" fill="#3f9a34"/>
<circle cx="686.2" cy="520.4" r="2" fill="#3f9a34"/>
<polyline points="31.3,606.2 42.4,606.2 53.5,606.2 64.6,606.2 75.7,606.2 86.8,606.2 97.9,606.2 109.0,606.2 120.1,606.2 131.2,606.2 142.3,606.2 153.4,606.2 164.5,606.2 175.6,606.2 186.7,606.2 197.8,606.2 208.9,606.2 220.0,606.2 231.1,606.2 242.2,606.2 253.3,606.2 264.4,606.2 275.5,606.2 286.6,606.2 297.7,606.2 308.8,532.6 319.9,508.1 331.0,508.1 342.1,508.1 353.2,508.1 364.3,508.1 375.4,508.1 386.5,520.4 397.6,520.4 408.7,520.4 419.8,520.4 430.9,520.4 442.0,520.4 453.1,520.4 464.2,520.4 475.3,520.4 486.4,520.4 497.5,508.1 508.6,508.1 519.7,508.1 530.8,508.1 541.9,520.4 553.0,520.4 564.1,520.4 575.2,520.4 586.3,520.4 597.4,520.4 608.5,520.4 619.6,520.4 630.7,520.4 641.8,520.4 652.9,520.4 664.0,520.4 675.1,520.4 686.2,520.4" fill="none" stroke="#efc55a" stroke-width="1" stroke-linejoin="round" />
<circle cx="31.3" cy="606.2" r="2" fill="#e5a900"/>
<circle cx="42.4" cy="606.2" r="2" fill="#e5a900"/>
<circle cx="53.5" cy="606.2" r="2" fill="#e5a900"/>
<circle cx="64.6" cy="606.2" r="2" fill="#e5a900"/>
<circle cx="75.7" cy="606.2" r="2" fill="#e5a900"/>
<circle cx="86.8" cy="606.2" r="2" fill="#e5a900"/>
<circle cx="97.9" cy="606.2" r="2" fill="#e5a900"/>
<circle cx="109.0" cy="606.2" r="2" fill="#e5a900"/>
<circle cx="120.1" cy="606.2" r="2" fill="#e5a900"/>
<circle cx="131.2" cy="606.2" r="2" fill="#e5a900"/>
<circle cx="142.3" cy="606.2" r="2" fill="#e5a900"/>
<circle cx="153.4" cy="606.2" r="2" fill="#e5a900"/>
<circle cx="164.5" cy="606.2" r="2" fill="#e5a900"/>
<circle cx="175.6" cy="606.2" r="2" fill="#e5a900"/>
<circle cx="186.7" cy="606.2" r="2" fill="#e5a900"/>
<circle cx="197.8" cy="606.2" r="2" fill="#e5a900"/>
<circle cx="208.9" cy="606.2" r="2" fill="#e5a900"/>
<circle cx="220.0" cy="606.2" r="2" fill="#e5a900"/>
<circle cx="231.1" cy="606.2" r="2" fill="#e5a900"/>
<circle cx="242.2" cy="606.2" r="2" fill="#e5a900"/>
<circle cx="253.3" cy="606.2" r="2" fill="#e5a900"/>
<circle cx="264.4" cy="606.2" r="2" fill="#e5a900"/>
<circle cx="275.5" cy="606.2" r="2" fill="#e5a900"/>
<circle cx="286.6" cy="606.2" r="2" fill="#e5a900"/>
<circle cx="297.7" cy="606.2" r="2" fill="#e5a900"/>
<circle cx="308.8" cy="532.6" r="2" fill="#e5a900"/>
<circle cx="319.9" cy="508.1" r="2" fill="#e5a900"/>
<circle cx="331.0" cy="508.1" r="2" fill="#e5a900"/>
<circle cx="342.1" cy="508.1" r="2" fill="#e5a900"/>
<circle cx="353.2" cy="508.1" r="2" fill="#e5a900"/>
<circle cx="364.3" cy="508.1" r="2" fill="#e5a900"/>
<circle cx="375.4" cy="508.1" r="2" fill="#e5a900"/>
<circle cx="386.5" cy="520.4" r="2" fill="#e5a900"/>
<circle cx="397.6" cy="520.4" r="2" fill="#e5a900"/>
<circle cx="408.7" cy="520.4" r="2" fill="#e5a900"/>
<circle cx="419.8" cy="520.4" r="2" fill="#e5a900"/>
<circle cx="430.9" cy="520.4" r="2" fill="#e5a900"/>
<circle cx="442.0" cy="520.4" r="2" fill="#e5a900"/>
<circle cx="453.1" cy="520.4" r="2" fill="#e5a900"/>
<circle cx="464.2" cy="520.4" r="2" fill="#e5a900"/>
<circle cx="475.3" cy="520.4" r="2" fill="#e5a900"/>
<circle cx="486.4" cy="520.4" r="2" fill="#e5a900"/>
<circle cx="497.5" cy="508.1" r="2" fill="#e5a900"/>
<circle cx="508.6" cy="508.1" r="2" fill="#e5a900"/>
<circle cx="519.7" cy="508.1" r="2" fill="#e5a900"/>
<circle cx="530.8" cy="508.1" r="2" fill="#e5a900"/>
<circle cx="541.9" cy="520.4" r="2" fill="#e5a900"/>
<circle cx="553.0" cy="520.4" r="2" fill="#e5a900"/>
<circle cx="564.1" cy="520.4" r="2" fill="#e5a900"/>
<circle cx="575.2" cy="520.4" r="2" fill="#e5a900"/>
<circle cx="586.3" cy="520.4" r="2" fill="#e5a900"/>
<circle cx="597.4" cy="520.4" r="2" fill="#e5a900"/>
<circle cx="608.5" cy="520.4" r="2" fill="#e5a900"/>
<circle cx="619.6" cy="520.4" r="2" fill="#e5a900"/>
<circle cx="630.7" cy="520.4" r="2" fill="#e5a900"/>
<circle cx="641.8" cy="520.4" r="2" fill="#e5a900"/>
<circle cx="652.9" cy="520.4" r="2" fill="#e5a900"/>
<circle cx="664.0" cy="520.4" r="2" fill="#e5a900"/>
<circle cx="675.1" cy="520.4" r="2" fill="#e5a900"/>
<circle cx="686.2" cy="520.4" r="2" fill="#e5a900"/>
<text x="31" y="632.8" font-size="9.6" text-anchor="start" fill="#1a5ad8" stroke="#1a5ad8" stroke-width="0.22" >Name</text>
<text x="538.8" y="632.8" font-size="9.6" text-anchor="end" fill="#1a5ad8" stroke="#1a5ad8" stroke-width="0.22" >Min</text>
<text x="586" y="632.8" font-size="9.6" text-anchor="end" fill="#1a5ad8" stroke="#1a5ad8" stroke-width="0.22" >Max</text>
<text x="639" y="632.8" font-size="9.6" text-anchor="end" fill="#1a5ad8" stroke="#1a5ad8" stroke-width="0.22" >Mean</text>
<text x="693" y="632.8" font-size="9.6" text-anchor="end" fill="#1a5ad8" stroke="#1a5ad8" stroke-width="0.22" >Last *</text>
<line x1="8" y1="639.4" x2="700" y2="639.4" stroke="#e6e6e6" stroke-width="1" />
<line x1="8" y1="657.5" x2="700" y2="657.5" stroke="#e6e6e6" stroke-width="1" />
<line x1="8" y1="675.4" x2="700" y2="675.4" stroke="#e6e6e6" stroke-width="1" />
<rect x="14.4" y="647.3" width="10" height="2.6" rx="1.3" fill="#37872d"/>
<rect x="14.4" y="665.2" width="10" height="2.6" rx="1.3" fill="#e0a700"/>
<text x="31" y="650.8" font-size="9.6" text-anchor="start" fill="#15181c" stroke="#15181c" stroke-width="0.22" >Optmistic Usage</text>
<text x="31" y="668.5" font-size="9.6" text-anchor="start" fill="#15181c" stroke="#15181c" stroke-width="0.22" >Total GPU</text>
<text x="538.8" y="650.8" font-size="9.6" text-anchor="end" fill="#15181c" stroke="#15181c" stroke-width="0.22" >0</text>
<text x="538.8" y="668.5" font-size="9.6" text-anchor="end" fill="#15181c" stroke="#15181c" stroke-width="0.22" >0</text>
<text x="586" y="650.8" font-size="9.6" text-anchor="end" fill="#15181c" stroke="#15181c" stroke-width="0.22" >61</text>
<text x="586" y="668.5" font-size="9.6" text-anchor="end" fill="#15181c" stroke="#15181c" stroke-width="0.22" >64</text>
<text x="639" y="650.8" font-size="9.6" text-anchor="end" fill="#15181c" stroke="#15181c" stroke-width="0.22" >26.9</text>
<text x="639" y="668.5" font-size="9.6" text-anchor="end" fill="#15181c" stroke="#15181c" stroke-width="0.22" >33.3</text>
<text x="693" y="650.8" font-size="9.6" text-anchor="end" fill="#15181c" stroke="#15181c" stroke-width="0.22" >56</text>
<text x="693" y="668.5" font-size="9.6" text-anchor="end" fill="#15181c" stroke="#15181c" stroke-width="0.22" >56</text>
<text x="1064.5" y="587.7" font-size="14" text-anchor="middle" fill="#464c54" stroke="#464c54" stroke-width="0.22" >No data</text>
<rect x="1399" y="461" width="18" height="24" rx="4" fill="#ececec"/>
<circle cx="1407.8" cy="469.5" r="1.1" fill="#24292e"/>
<circle cx="1407.8" cy="473.3" r="1.1" fill="#24292e"/>
<circle cx="1407.8" cy="477" r="1.1" fill="#24292e"/>
<line x1="461" y1="225" x2="468" y2="218" stroke="#808080" stroke-width="1.1"/>
<line x1="464.5" y1="225" x2="468" y2="221.5" stroke="#808080" stroke-width="1.1"/>
<line x1="935" y1="225" x2="942" y2="218" stroke="#808080" stroke-width="1.1"/>
<line x1="938.5" y1="225" x2="942" y2="221.5" stroke="#808080" stroke-width="1.1"/>
<line x1="1409" y1="225" x2="1416" y2="218" stroke="#808080" stroke-width="1.1"/>
<line x1="1412.5" y1="225" x2="1416" y2="221.5" stroke="#808080" stroke-width="1.1"/>
<line x1="461" y1="453" x2="468" y2="446" stroke="#808080" stroke-width="1.1"/>
<line x1="464.5" y1="453" x2="468" y2="449.5" stroke="#808080" stroke-width="1.1"/>
<line x1="935" y1="453" x2="942" y2="446" stroke="#808080" stroke-width="1.1"/>
<line x1="938.5" y1="453" x2="942" y2="449.5" stroke="#808080" stroke-width="1.1"/>
<line x1="1409" y1="453" x2="1416" y2="446" stroke="#808080" stroke-width="1.1"/>
<line x1="1412.5" y1="453" x2="1416" y2="449.5" stroke="#808080" stroke-width="1.1"/>
<line x1="698" y1="680" x2="705" y2="673" stroke="#808080" stroke-width="1.1"/>
<line x1="701.5" y1="680" x2="705" y2="676.5" stroke="#808080" stroke-width="1.1"/>
<line x1="1409" y1="680" x2="1416" y2="673" stroke="#808080" stroke-width="1.1"/>
<line x1="1412.5" y1="680" x2="1416" y2="676.5" stroke="#808080" stroke-width="1.1"/></svg>
</body></html>
